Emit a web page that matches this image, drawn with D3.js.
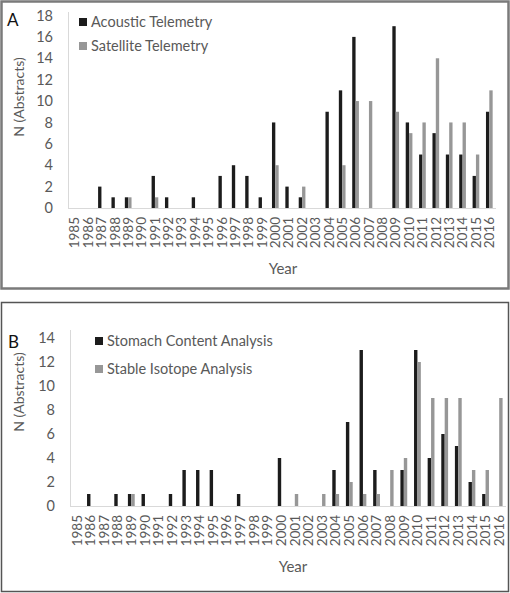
<!DOCTYPE html>
<html><head><meta charset="utf-8">
<script src="https://cdn.jsdelivr.net/npm/d3@7"></script>
<style>body{margin:0;background:#fff}svg{display:block}text{font-family:Lato,"Open Sans",sans-serif}</style>
</head><body><svg id="c" width="510" height="593"></svg>
<script>
const years = ["1985","1986","1987","1988","1989","1990","1991","1992","1993","1994","1995","1996","1997","1998","1999","2000","2001","2002","2003","2004","2005","2006","2007","2008","2009","2010","2011","2012","2013","2014","2015","2016"];
const acoustic  = [0,0,2,1,1,0,3,1,0,1,0,3,4,3,1,8,2,1,0,9,11,16,0,0,17,8,5,7,5,5,3,9];
const satellite = [0,0,0,0,1,0,1,0,0,0,0,0,0,0,0,4,0,2,0,0,4,10,10,0,9,7,8,14,8,8,5,11];
const stomach   = [0,1,0,1,1,1,0,1,3,3,3,0,1,0,0,4,0,0,0,3,7,13,3,0,3,13,4,6,5,2,1,0];
const isotope   = [0,0,0,0,1,0,0,0,0,0,0,0,0,0,0,0,1,0,1,1,2,1,1,3,4,12,9,9,9,3,3,9];
const ticksA = [0,2,4,6,8,10,12,14,16,18];
const ticksB = [0,2,4,6,8,10,12,14];
const seriesNamesA = ["Acoustic Telemetry","Satellite Telemetry"];
const seriesNamesB = ["Stomach Content Analysis","Stable Isotope Analysis"];

const svg = d3.select("#c");
const colors = ["#1c1c1c","#979797"];
const txt = "#595959";

function panel(cfg){
  const g = svg.append("g");
  g.append("rect").attr("x",cfg.frame[0]).attr("y",cfg.frame[1]).attr("width",cfg.frame[2]).attr("height",cfg.frame[3])
    .attr("fill","none").attr("stroke",cfg.frameColor).attr("stroke-width",cfg.frameW);
  g.append("text").attr("x",cfg.letter[0]).attr("y",cfg.letter[1]).attr("font-size",17).attr("fill","#111").text(cfg.letterText);
  const x = d3.scaleBand().domain(years).range([cfg.x0,cfg.x1]);
  const y = d3.scaleLinear().domain([0,cfg.max]).range([cfg.yb,cfg.yt]);
  g.append("line").attr("x1",cfg.x0+0.5).attr("x2",cfg.x0+0.5).attr("y1",cfg.axTop).attr("y2",cfg.yb).attr("stroke","#d9d9d9");
  g.append("line").attr("x1",cfg.x0).attr("x2",cfg.x1).attr("y1",cfg.yb+0.5).attr("y2",cfg.yb+0.5).attr("stroke","#d9d9d9");
  const ya = d3.axisLeft(y).tickValues(cfg.ticks).tickSize(0).tickPadding(0);
  const yg = g.append("g").attr("transform",`translate(${cfg.x0-15},0)`).call(ya);
  yg.select(".domain").remove();
  yg.selectAll("text").attr("font-size",14.5).attr("fill",txt).attr("font-family","Lato,sans-serif");
  const xa = d3.axisBottom(x).tickSize(0).tickPadding(0);
  const xg = g.append("g").attr("transform",`translate(0,${cfg.yb+9})`).call(xa);
  xg.select(".domain").remove();
  xg.selectAll("text").attr("font-size",13.5).attr("fill",txt).attr("font-family","Lato,sans-serif")
    .attr("transform","rotate(-90)").attr("text-anchor","end").attr("x",0).attr("y",0).attr("dx",0).attr("dy","0.35em");
  const bw = x.bandwidth()*0.25;
  [cfg.s1,cfg.s2].forEach((s,si)=>{
    g.selectAll(null).data(s.map((v,i)=>({v,yr:years[i]}))).enter().append("rect")
      .filter(d=>d.v>0)
      .attr("x",d=>x(d.yr)+x.bandwidth()/2-bw+si*bw).attr("width",bw)
      .attr("y",d=>y(d.v)).attr("height",d=>y(0)-y(d.v)).attr("fill",colors[si]);
  });
  g.append("text").attr("transform",`translate(${cfg.ytitle[0]},${cfg.ytitle[1]}) rotate(-90)`).attr("text-anchor","middle")
    .attr("dy","0.35em").attr("font-size",14).attr("fill",txt).text("N (Abstracts)");
  g.append("text").attr("x",cfg.xtitle[0]).attr("y",cfg.xtitle[1]).attr("text-anchor","middle").attr("font-size",15).attr("fill",txt).text("Year");
  cfg.names.forEach((n,i)=>{
    const ly = cfg.leg[1]+i*cfg.legStep;
    g.append("rect").attr("x",cfg.leg[0]).attr("y",ly-4).attr("width",8).attr("height",8).attr("fill",colors[i]);
    g.append("text").attr("x",cfg.leg[0]+12).attr("y",ly).attr("dy","0.35em").attr("font-size",14.5).attr("fill",txt).text(n);
  });
}

panel({frame:[1.5,1.5,507,287],frameColor:"#7a7a7a",frameW:2.5,letter:[7,26],letterText:"A",
  x0:68,x1:496,yb:208,yt:15.5,max:18,axTop:12,ticks:ticksA,s1:acoustic,s2:satellite,
  ytitle:[19,97],xtitle:[283,274],names:seriesNamesA,leg:[79,22],legStep:24});
panel({frame:[1.5,302.5,507,289],frameColor:"#555",frameW:1.5,letter:[8,348],letterText:"B",
  x0:70,x1:506,yb:506,yt:338,max:14,axTop:330,ticks:ticksB,s1:stomach,s2:isotope,
  ytitle:[19,392],xtitle:[293,572],names:seriesNamesB,leg:[95,341],legStep:28});
</script></body></html>
